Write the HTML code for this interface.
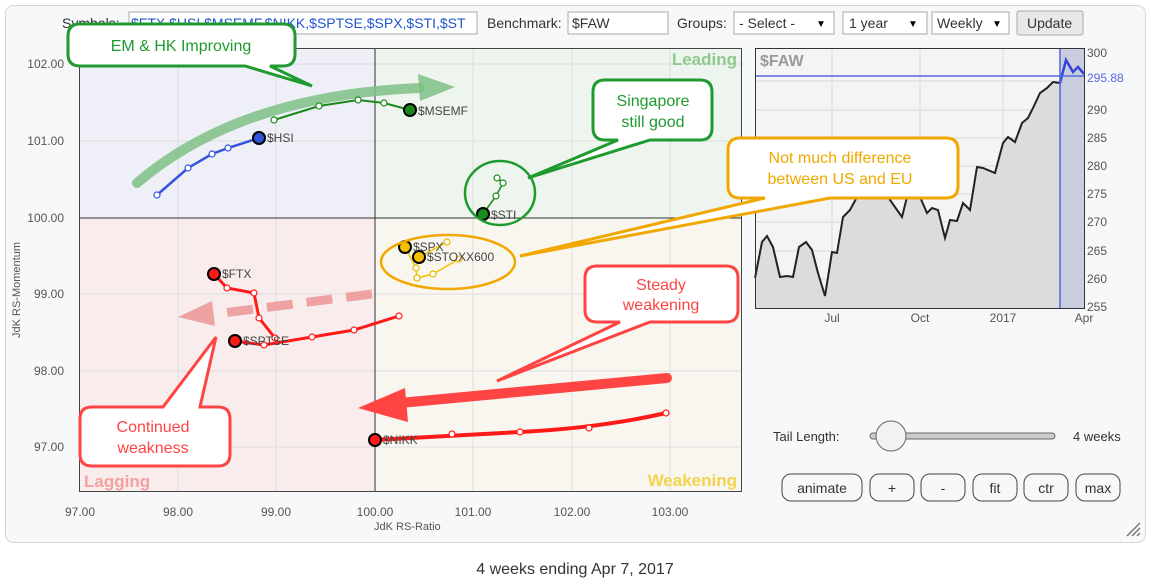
<!DOCTYPE html>
<html><head><meta charset="utf-8"><style>
body{margin:0;background:#fff;width:1151px;height:586px;overflow:hidden;font-family:"Liberation Sans",sans-serif}
svg{position:absolute;left:0;top:0}
</style></head><body>
<svg width="1151" height="586" viewBox="0 0 1151 586" font-family="Liberation Sans, sans-serif">
<rect x="5.5" y="5.5" width="1140" height="537" rx="8" fill="#f7f8fa" stroke="#d6d6d6"/>
<!-- top form -->
<text x="62" y="28" font-size="14" fill="#333">Symbols:</text>
<rect x="129" y="12" width="348" height="22" fill="#fff" stroke="#aaa"/>
<text x="131" y="28" font-size="14" fill="#2255cc">$FTX,$HSI,$MSEMF,$NIKK,$SPTSE,$SPX,$STI,$ST</text>
<text x="487" y="28" font-size="14" fill="#333">Benchmark:</text>
<rect x="568" y="12" width="100" height="22" fill="#fff" stroke="#aaa"/>
<text x="572" y="28" font-size="14" fill="#333">$FAW</text>
<text x="677" y="28" font-size="14" fill="#333">Groups:</text>
<rect x="734" y="12" width="100" height="22" fill="#fff" stroke="#aaa"/><text x="739" y="28" font-size="14" fill="#333">- Select -</text><text x="816" y="27" font-size="10">▼</text>
<rect x="843" y="12" width="84" height="22" fill="#fff" stroke="#aaa"/><text x="849" y="28" font-size="14" fill="#333">1 year</text><text x="908" y="27" font-size="10">▼</text>
<rect x="932" y="12" width="77" height="22" fill="#fff" stroke="#aaa"/><text x="937" y="28" font-size="14" fill="#333">Weekly</text><text x="992" y="27" font-size="10">▼</text>
<rect x="1017" y="11" width="66" height="24" rx="2" fill="#e8e8e8" stroke="#aaa"/><text x="1027" y="28" font-size="14" fill="#333">Update</text>

<!-- RRG quadrants -->
<rect x="79" y="48" width="296" height="170" fill="#eeeff7"/>
<rect x="375" y="48" width="367" height="170" fill="#eef4ee"/>
<rect x="79" y="218" width="296" height="274" fill="#f8ecec"/>
<rect x="375" y="218" width="367" height="274" fill="#f8f6ee"/>
<g stroke="#dedede" stroke-width="1">
<line x1="178" y1="48" x2="178" y2="492"/><line x1="276" y1="48" x2="276" y2="492"/><line x1="473" y1="48" x2="473" y2="492"/><line x1="572" y1="48" x2="572" y2="492"/><line x1="670" y1="48" x2="670" y2="492"/>
<line x1="79" y1="64" x2="742" y2="64"/><line x1="79" y1="141" x2="742" y2="141"/><line x1="79" y1="294" x2="742" y2="294"/><line x1="79" y1="371" x2="742" y2="371"/><line x1="79" y1="447" x2="742" y2="447"/>
</g>
<line x1="375" y1="48" x2="375" y2="492" stroke="#333"/><line x1="79" y1="218" x2="742" y2="218" stroke="#333"/>
<rect x="79.5" y="48.5" width="662" height="443" fill="none" stroke="#444"/>
<text x="737" y="65" font-size="17" font-weight="bold" fill="#8fc98f" text-anchor="end">Leading</text>
<text x="737" y="486" font-size="17" font-weight="bold" fill="#f3d34a" text-anchor="end">Weakening</text>
<text x="84" y="487" font-size="17" font-weight="bold" fill="#f5a0a0">Lagging</text>
<g font-size="12" fill="#555" text-anchor="end">
<text x="64" y="68">102.00</text><text x="64" y="145">101.00</text><text x="64" y="222">100.00</text><text x="64" y="298">99.00</text><text x="64" y="375">98.00</text><text x="64" y="451">97.00</text>
</g>
<g font-size="12" fill="#555" text-anchor="middle">
<text x="80" y="516">97.00</text><text x="178" y="516">98.00</text><text x="276" y="516">99.00</text><text x="375" y="516">100.00</text><text x="473" y="516">101.00</text><text x="572" y="516">102.00</text><text x="670" y="516">103.00</text>
</g>
<text x="374" y="530" font-size="11" fill="#555">JdK RS-Ratio</text>
<text transform="translate(20,290) rotate(-90)" font-size="11" fill="#555" text-anchor="middle">JdK RS-Momentum</text>

<!-- mini chart -->
<rect x="755" y="48" width="329" height="261" fill="#f4f4f4"/>
<g stroke="#d8d8d8"><line x1="832" y1="48" x2="832" y2="309"/><line x1="920" y1="48" x2="920" y2="309"/><line x1="1003" y1="48" x2="1003" y2="309"/>
<line x1="755" y1="81" x2="1084" y2="81"/><line x1="755" y1="110" x2="1084" y2="110"/><line x1="755" y1="138" x2="1084" y2="138"/><line x1="755" y1="166" x2="1084" y2="166"/><line x1="755" y1="194" x2="1084" y2="194"/><line x1="755" y1="222" x2="1084" y2="222"/><line x1="755" y1="251" x2="1084" y2="251"/><line x1="755" y1="279" x2="1084" y2="279"/></g>
<polygon points="755,278 762,242 767,236 773,247 780,277 787,276 793,277 799,247 806,242 812,250 818,273 825,296 832,252 837,253 843,217 850,210 857,197 870,185 880,180 890,200 902,217 907,197 920,197 927,213 932,208 938,210 945,238 950,220 957,221 963,203 970,210 977,167 983,168 995,173 1003,143 1008,137 1015,142 1022,123 1028,118 1033,108 1040,93 1047,88 1053,82 1060,83 1066,60 1073,72 1078,67 1084,74 1084,309 755,309" fill="#dcdcdc"/>
<rect x="1060" y="48" width="24" height="261" fill="#cacddd"/>
<polyline points="755,278 762,242 767,236 773,247 780,277 787,276 793,277 799,247 806,242 812,250 818,273 825,296 832,252 837,253 843,217 850,210 857,197 870,185 880,180 890,200 902,217 907,197 920,197 927,213 932,208 938,210 945,238 950,220 957,221 963,203 970,210 977,167 983,168 995,173 1003,143 1008,137 1015,142 1022,123 1028,118 1033,108 1040,93 1047,88 1053,82 1060,83" fill="none" stroke="#222" stroke-width="2"/>
<polyline points="1060,83 1066,60 1073,72 1078,67 1084,74" fill="none" stroke="#3344dd" stroke-width="2.5"/>
<line x1="755" y1="76" x2="1084" y2="76" stroke="#5566dd" stroke-width="1.5"/>
<line x1="1060" y1="48" x2="1060" y2="309" stroke="#5566dd" stroke-width="1.5"/>
<rect x="755.5" y="48.5" width="329" height="260" fill="none" stroke="#333"/>
<text x="760" y="66" font-size="16" font-weight="bold" fill="#999">$FAW</text>
<g font-size="12" fill="#555"><text x="1087" y="57">300</text><text x="1087" y="114">290</text><text x="1087" y="142">285</text><text x="1087" y="170">280</text><text x="1087" y="198">275</text><text x="1087" y="226">270</text><text x="1087" y="255">265</text><text x="1087" y="283">260</text><text x="1087" y="311">255</text>
<text x="1087" y="82" fill="#5566dd">295.88</text>
<text x="832" y="322" text-anchor="middle">Jul</text><text x="920" y="322" text-anchor="middle">Oct</text><text x="1003" y="322" text-anchor="middle">2017</text><text x="1084" y="322" text-anchor="middle">Apr</text></g>

<!-- annotations behind -->
<path d="M137,183 Q240,95 420,88" fill="none" stroke="#7fbf85" stroke-width="10" stroke-linecap="round" opacity="0.85"/>
<path d="M418,74 L455,87 L420,101 z" fill="#7fbf85" opacity="0.85"/>
<line x1="372" y1="294" x2="215" y2="314" stroke="#eea2a2" stroke-width="9" stroke-dasharray="26,14"/>
<path d="M178,317 L212,301 L215,326 z" fill="#eea2a2"/>
<!-- series -->
<g fill="none" stroke-width="2.5">
<polyline points="157,195 188,168 212,154 228,148 259,138" stroke="#3355dd" stroke-width="2.5"/>
<polyline points="274,120 319,106 358,100 384,103 410,110" stroke="#1a8a1a" stroke-width="2"/>
<polyline points="497,178 503,183 496,196 483,214" stroke="#1a8a1a" stroke-width="1.5"/>
<polyline points="447,242 419,257" stroke="#f2c200" stroke-width="1.5"/>
<polyline points="459,259 433,274 417,278 416,268 405,247" stroke="#f2c200" stroke-width="1.5"/>
<polyline points="275,338 259,318 254,293 227,288 214,274" stroke="#ff1a1a" stroke-width="3"/>
<polyline points="399,316 354,330 312,337 264,345 235,341" stroke="#ff1a1a" stroke-width="3"/>
<path d="M666,413 Q600,428 520,432 L375,440" stroke="#ff1a1a" stroke-width="4"/>
</g>
<g fill="#fff" stroke-width="1.2">
<g stroke="#3355dd"><circle cx="157" cy="195" r="3"/><circle cx="188" cy="168" r="3"/><circle cx="212" cy="154" r="3"/><circle cx="228" cy="148" r="3"/></g>
<g stroke="#1a8a1a"><circle cx="274" cy="120" r="3"/><circle cx="319" cy="106" r="3"/><circle cx="358" cy="100" r="3"/><circle cx="384" cy="103" r="3"/><circle cx="497" cy="178" r="3"/><circle cx="503" cy="183" r="3"/><circle cx="496" cy="196" r="3"/></g>
<g stroke="#e8b800"><circle cx="447" cy="242" r="3"/><circle cx="459" cy="259" r="3"/><circle cx="433" cy="274" r="3"/><circle cx="417" cy="278" r="3"/><circle cx="416" cy="268" r="3"/></g>
<g stroke="#ff1a1a"><circle cx="227" cy="288" r="3"/><circle cx="254" cy="293" r="3"/><circle cx="259" cy="318" r="3"/><circle cx="275" cy="338" r="3"/><circle cx="264" cy="345" r="3"/><circle cx="312" cy="337" r="3"/><circle cx="354" cy="330" r="3"/><circle cx="399" cy="316" r="3"/><circle cx="452" cy="434" r="3"/><circle cx="520" cy="432" r="3"/><circle cx="589" cy="428" r="3"/><circle cx="666" cy="413" r="3"/></g>
</g>
<g stroke="#000" stroke-width="2">
<circle cx="259" cy="138" r="6" fill="#3355dd"/><circle cx="410" cy="110" r="6" fill="#1a8a1a"/><circle cx="483" cy="214" r="6" fill="#1a8a1a"/>
<circle cx="405" cy="247" r="6" fill="#f2c200"/><circle cx="419" cy="257" r="6" fill="#f2c200"/>
<circle cx="214" cy="274" r="6" fill="#ff1a1a"/><circle cx="235" cy="341" r="6" fill="#ff1a1a"/><circle cx="375" cy="440" r="6" fill="#ff1a1a"/>
</g>
<g font-size="12" fill="#444">
<text x="267" y="142">$HSI</text><text x="418" y="115">$MSEMF</text><text x="491" y="219">$STI</text><text x="413" y="251">$SPX</text><text x="427" y="261">$STOXX600</text><text x="222" y="278">$FTX</text><text x="243" y="345">$SPTSE</text><text x="383" y="444">$NIKK</text>
</g>
<ellipse cx="500" cy="193" rx="35" ry="32" fill="none" stroke="#1f9a2f" stroke-width="2.5"/>
<ellipse cx="448" cy="262" rx="67" ry="27" fill="none" stroke="#f0a800" stroke-width="2.5"/>
<line x1="667" y1="378" x2="400" y2="403" stroke="#f44" stroke-width="10" stroke-linecap="round"/>
<path d="M358,408 L405,388 L408,422 z" fill="#f44"/>

<!-- callouts -->
<path d="M80,24 H283 Q295,24 295,36 V54 Q295,66 283,66 H270 L312,86 L245,66 H80 Q68,66 68,54 V36 Q68,24 80,24 z" fill="#fff" stroke="#1f9a2f" stroke-width="3"/>
<text x="181" y="51" font-size="16" fill="#1f9a2f" text-anchor="middle">EM &amp; HK Improving</text>
<path d="M605,80 H700 Q712,80 712,92 V128 Q712,140 700,140 H650 L528,178 L618,140 H605 Q593,140 593,128 V92 Q593,80 605,80 z" fill="#fff" stroke="#1f9a2f" stroke-width="3"/>
<text x="653" y="106" font-size="16" fill="#1f9a2f" text-anchor="middle">Singapore</text><text x="653" y="127" font-size="16" fill="#1f9a2f" text-anchor="middle">still good</text>
<path d="M740,138 H946 Q958,138 958,150 V186 Q958,198 946,198 H830 L520,256 L765,198 H740 Q728,198 728,186 V150 Q728,138 740,138 z" fill="#fff" stroke="#f0a800" stroke-width="3"/>
<text x="840" y="163" font-size="16" fill="#f0a800" text-anchor="middle">Not much difference</text><text x="840" y="184" font-size="16" fill="#f0a800" text-anchor="middle">between US and EU</text>
<path d="M597,266 H726 Q738,266 738,278 V310 Q738,322 726,322 H650 L497,381 L620,322 H597 Q585,322 585,310 V278 Q585,266 597,266 z" fill="#fff" stroke="#f44" stroke-width="3"/>
<text x="661" y="290" font-size="16" fill="#f44" text-anchor="middle">Steady</text><text x="661" y="310" font-size="16" fill="#f44" text-anchor="middle">weakening</text>
<path d="M92,407 H163 L216,337 L200,407 H218 Q230,407 230,419 V454 Q230,466 218,466 H92 Q80,466 80,454 V419 Q80,407 92,407 z" fill="#fff" stroke="#f44" stroke-width="3"/>
<text x="153" y="432" font-size="16" fill="#f44" text-anchor="middle">Continued</text><text x="153" y="453" font-size="16" fill="#f44" text-anchor="middle">weakness</text>

<!-- controls -->
<text x="773" y="441" font-size="13" fill="#333">Tail Length:</text>
<rect x="870" y="433" width="185" height="6" rx="3" fill="#ccc" stroke="#666"/>
<circle cx="891" cy="436" r="15" fill="#f2f2f2" stroke="#666"/>
<text x="1073" y="441" font-size="13" fill="#333">4 weeks</text>
<g fill="none" stroke="#444"><rect x="782" y="474" width="80" height="27" rx="9"/><rect x="870" y="474" width="44" height="27" rx="9"/><rect x="921" y="474" width="44" height="27" rx="9"/><rect x="973" y="474" width="44" height="27" rx="9"/><rect x="1024" y="474" width="44" height="27" rx="9"/><rect x="1076" y="474" width="44" height="27" rx="9"/></g>
<g font-size="14" fill="#333" text-anchor="middle"><text x="822" y="493">animate</text><text x="892" y="493">+</text><text x="943" y="493">-</text><text x="995" y="493">fit</text><text x="1046" y="493">ctr</text><text x="1098" y="493">max</text></g>
<g stroke="#777" stroke-width="1.5"><line x1="1127" y1="536" x2="1140" y2="523"/><line x1="1132" y1="536" x2="1140" y2="528"/><line x1="1137" y1="536" x2="1140" y2="533"/></g>
<text x="575" y="574" font-size="16" fill="#333" text-anchor="middle">4 weeks ending Apr 7, 2017</text>
</svg>
</body></html>
